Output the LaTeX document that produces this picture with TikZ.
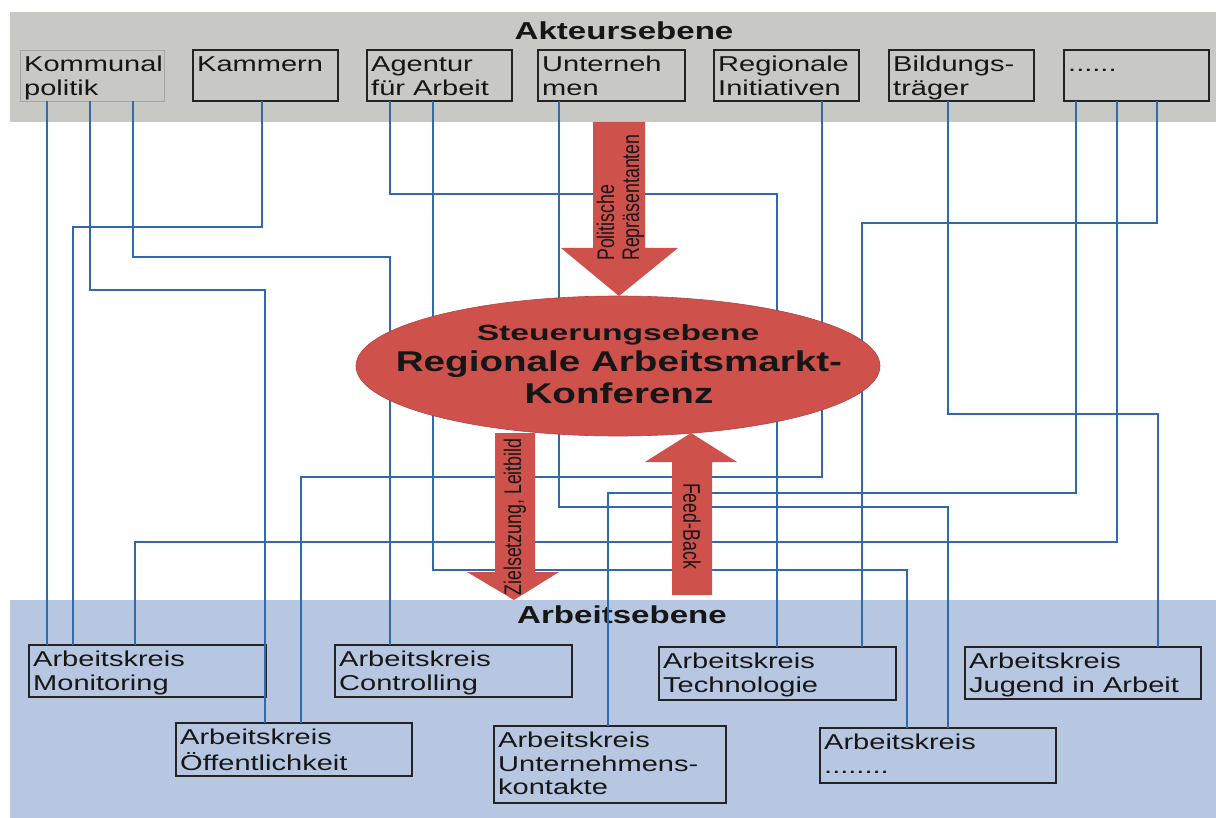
\documentclass[tikz,border=0pt]{standalone}
\usepackage{fontspec}
\setmainfont{Liberation Sans}[FakeStretch=1.35]
\newfontfamily\widefont{Liberation Sans}[FakeStretch=1.53]
\newfontfamily\rotfont{Liberation Sans}[FakeStretch=0.74]
\usetikzlibrary{shapes.geometric}

\definecolor{bandgray}{RGB}{200,200,197}
\definecolor{bandblue}{RGB}{183,199,225}
\definecolor{linkblue}{RGB}{48,106,170}
\definecolor{confred}{RGB}{206,81,76}
\definecolor{boxline}{RGB}{35,35,35}
\definecolor{inkblack}{RGB}{22,22,22}

\tikzset{
  actor/.style={rectangle, draw=boxline, line width=1.8pt, anchor=north west,
    inner sep=0pt, outer sep=0pt, minimum height=51pt},
  actorlight/.style={actor, draw=gray!70, line width=0.9pt},
  workbox/.style={rectangle, draw=boxline, line width=1.8pt, anchor=north west,
    inner sep=0pt, outer sep=0pt},
  boxtext/.style={anchor=north west, inner sep=0pt, xshift=4pt, yshift=-5.2pt,
    align=left, text=inkblack, font=\fontsize{21.5}{23.3}\selectfont},
  level/.style={anchor=base, inner sep=0pt, text=inkblack,
    font=\fontsize{24.5}{28}\selectfont\bfseries},
  conftext/.style={anchor=base, inner sep=0pt, text=inkblack},
  flowtext/.style={inner sep=0pt, text=inkblack, font=\rotfont\fontsize{24}{25}\selectfont},
  link/.style={draw=linkblue, line width=1.5pt},
  flowarrow/.style={fill=confred},
}

\begin{document}
\begin{tikzpicture}[x=1pt,y=-1pt]
  % canvas and the two levels
  \useasboundingbox (0,0) rectangle (1216,818);
  \fill[white] (0,0) rectangle (1216,818);
  \fill[bandgray] (10,12) rectangle (1216,122);
  \fill[bandblue] (10,600) rectangle (1216,818);

  \node[level] (akt) at (624,40) {Akteursebene};
  \node[level] (arb) at (622,623) {Arbeitsebene};

  % actors
  \node[actorlight, minimum width=144pt, label={[boxtext]north west:{\strut Kommunal\\politik}}] (kp) at (20,50) {};
  \node[actor, minimum width=145pt, label={[boxtext]north west:{\strut Kammern}}] (km) at (193,50) {};
  \node[actor, minimum width=145pt, label={[boxtext]north west:{\strut Agentur\\für Arbeit}}] (ag) at (367,50) {};
  \node[actor, minimum width=147pt, label={[boxtext]north west:{\strut Unterneh\\men}}] (un) at (538,50) {};
  \node[actor, minimum width=145pt, label={[boxtext]north west:{\strut Regionale\\Initiativen}}] (ri) at (714,50) {};
  \node[actor, minimum width=145pt, label={[boxtext]north west:{\strut Bildungs-\\träger}}] (bt) at (889,50) {};
  \node[actor, minimum width=145pt, label={[boxtext]north west:{\strut ......}}] (dt) at (1064,50) {};

  % working groups
  \node[workbox, minimum width=237pt, minimum height=52pt, label={[boxtext]north west:{\strut Arbeitskreis\\Monitoring}}] (mon) at (29,645) {};
  \node[workbox, minimum width=237pt, minimum height=52pt, label={[boxtext]north west:{\strut Arbeitskreis\\Controlling}}] (ctl) at (335,645) {};
  \node[workbox, minimum width=236pt, minimum height=53pt, label={[boxtext]north west:{\strut Arbeitskreis\\Öffentlichkeit}}] (oef) at (176,723) {};
  \node[workbox, minimum width=232pt, minimum height=77pt, label={[boxtext]north west:{\strut Arbeitskreis\\Unternehmens-\\kontakte}}] (uk) at (494,726) {};
  \node[workbox, minimum width=237pt, minimum height=53pt, label={[boxtext]north west:{\strut Arbeitskreis\\Technologie}}] (tec) at (659,647) {};
  \node[workbox, minimum width=236pt, minimum height=52pt, label={[boxtext]north west:{\strut Arbeitskreis\\Jugend in Arbeit}}] (jug) at (965,647) {};
  \node[workbox, minimum width=236pt, minimum height=55pt, label={[boxtext]north west:{\strut Arbeitskreis\\........}}] (etc) at (820,728) {};

  % links from the actors to the working groups
  \draw[link] ([xshift=27pt]kp.south west) -- ([xshift=18pt]mon.north west);
  \draw[link] ([xshift=70pt]kp.south west) |- (265,290) -- ([xshift=89pt]oef.north west);
  \draw[link] ([xshift=113pt]kp.south west) |- (390,257) -- ([xshift=55pt]ctl.north west);
  \draw[link] ([xshift=69pt]km.south west) |- (73,227) -- ([xshift=44pt]mon.north west);
  \draw[link] ([xshift=23pt]ag.south west) |- (777,194) -- ([xshift=118pt]tec.north west);
  \draw[link] ([xshift=66pt]ag.south west) |- (907,570) -- ([xshift=87pt]etc.north west);
  \draw[link] ([xshift=21pt]un.south west) |- (948,507) -- ([xshift=128pt]etc.north west);
  \draw[link] ([xshift=108pt]ri.south west) |- (301,477) -- ([xshift=125pt]oef.north west);
  \draw[link] ([xshift=59pt]bt.south west) |- (1158,414) -- ([xshift=193pt]jug.north west);
  \draw[link] ([xshift=12pt]dt.south west) |- (608,493) -- ([xshift=114pt]uk.north west);
  \draw[link] ([xshift=53pt]dt.south west) |- (135,542) -- ([xshift=106pt]mon.north west);
  \draw[link] ([xshift=93pt]dt.south west) |- (862,223) -- ([xshift=203pt]tec.north west);

  % steering level
  \node[ellipse, fill=confred, draw=confred!85!black, line width=0.6pt, inner sep=0pt,
        minimum width=524pt, minimum height=140pt] (conf) at (618,366) {};
  \node[conftext, font=\widefont\fontsize{22}{26}\selectfont\bfseries] (conf-a) at (618,341) {Steuerungsebene};
  \node[conftext, font=\fontsize{28.6}{32}\selectfont\bfseries] (conf-b) at (619,371) {Regionale Arbeitsmarkt-};
  \node[conftext, font=\fontsize{28.6}{32}\selectfont\bfseries] (conf-c) at (619,403) {Konferenz};

  % flows between the levels
  \fill[flowarrow] (593,122) -- (645,122) -- (645,248) -- (678,248) -- (619,296)
                   -- (561,248) -- (593,248) -- cycle;
  \fill[flowarrow] (495,433) -- (535,433) -- (535,572) -- (559,572) -- (514,600)
                   -- (467,572) -- (495,572) -- cycle;
  \fill[flowarrow] (672,595) -- (712,595) -- (712,462) -- (737,462) -- (691,433)
                   -- (645,462) -- (672,462) -- cycle;

  \node[flowtext, rotate=90, anchor=north west, align=left] (pr-text) at (596.5,261) {Politische\\Repräsentanten};
  \node[flowtext, rotate=90] (zl-text) at (515,517) {Zielsetzung, Leitbild};
  \node[flowtext, rotate=-90] (fb-text) at (692,526) {Feed-Back};
\end{tikzpicture}
\end{document}
